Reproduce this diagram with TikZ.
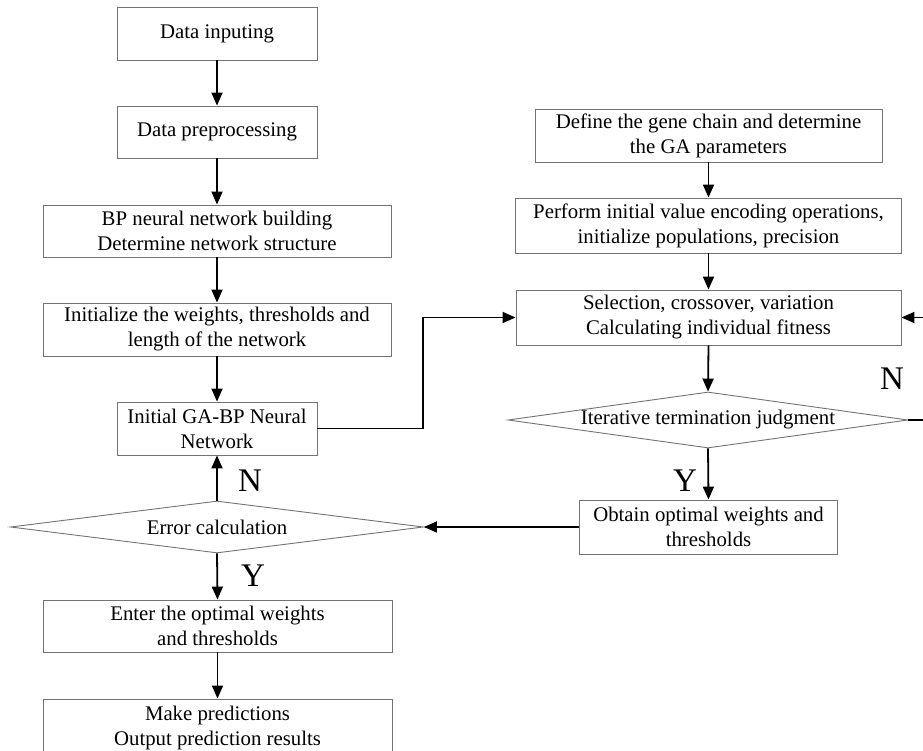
\documentclass[tikz,border=0pt]{standalone}
\usepackage{fontspec}
\setmainfont{Liberation Serif}
\usetikzlibrary{shapes.geometric,arrows.meta}
\begin{document}
\begin{tikzpicture}[x=1pt,y=-1pt,
  box/.style={draw=black!55,line width=0.9pt,rectangle,inner sep=0pt,align=center,
    font=\fontsize{20.8}{25}\selectfont},
  dia/.style={draw=black!55,line width=0.9pt,diamond,inner sep=0pt},
  txt/.style={inner sep=0pt,align=center,font=\fontsize{20.8}{25}\selectfont},
  big/.style={inner sep=0pt,font=\fontsize{33}{33}\selectfont},
  arr/.style={line width=1.8pt,-{Triangle[length=13pt,width=11pt]}},
  ln/.style={line width=1.8pt}]
\useasboundingbox (0,0) rectangle (923,751);
\clip (0,0) rectangle (923,751);
% left column
\node[box,minimum width=200pt,minimum height=53pt] (b1) at (217,33.5) {Data inputing};
\node[box,minimum width=200pt,minimum height=52pt] (b2) at (217,132) {Data preprocessing};
\node[box,minimum width=348pt,minimum height=52pt] (b3) at (217,231) {BP neural network building\\Determine network structure};
\node[box,minimum width=348pt,minimum height=53pt] (b4) at (217,329.5) {Initialize the weights, thresholds and\\length of the network};
\node[box,minimum width=200pt,minimum height=53pt] (b5) at (217,428.5) {Initial GA-BP Neural\\Network};
\node[dia,minimum width=413pt,minimum height=52pt] (d1) at (217,527) {};
\node[txt] (d1t) at (217,527) {Error calculation};
\node[box,minimum width=349pt,minimum height=52pt] (b6) at (217.5,626) {Enter the optimal weights\\and thresholds};
\node[box,minimum width=349pt,minimum height=58pt] (b7) at (217.5,728) {Make predictions\\Output prediction results};
% right column
\node[box,minimum width=347pt,minimum height=53pt] (r1) at (708.5,135.5) {Define the gene chain and determine\\the GA parameters};
\node[box,minimum width=386pt,minimum height=55pt] (r2) at (708.5,225.5) {Perform initial value encoding operations,\\initialize populations, precision};
\node[box,minimum width=385pt,minimum height=55pt] (r3) at (708.5,317.5) {Selection, crossover, variation\\Calculating individual fitness};
\node[dia,minimum width=400pt,minimum height=56pt] (d2) at (708,420) {};
\node[txt] (d2t) at (708,420) {Iterative termination judgment};
\node[box,minimum width=258pt,minimum height=54pt] (r4) at (708.5,527) {Obtain optimal weights and\\thresholds};
% labels
\node[big] (nl) at (250,481) {N};
\node[big] (yl) at (253,576) {Y};
\node[big] (nr) at (892,379) {N};
\node[big] (yr) at (685,481) {Y};
% coordinates
\coordinate (c1) at (423,428.5);
\coordinate (c2) at (423,317.5);
\coordinate (c3) at (930,420);
\coordinate (c4) at (930,317.5);
% connectors
\draw[arr] (b1) -- (b2);
\draw[arr] (b2) -- (b3);
\draw[arr] (b3) -- (b4);
\draw[arr] (b4) -- (b5);
\draw[arr] (d1.north) -- (b5.south);
\draw[arr] (d1.south) -- (b6.north);
\draw[arr] (b6) -- (b7);
\draw[arr] (b5.east) -- (c1) -- (c2) -- (r3.west);
\draw[arr] (r1) -- (r2);
\draw[arr] (r2) -- (r3);
\draw[arr] (r3.south) -- (d2.north);
\draw[arr] (d2.south) -- (r4.north);
\draw[arr] (d2.east) -- (c3) -- (c4) -- (r3.east);
\draw[arr] (r4.west) -- (d1.east);
\end{tikzpicture}
\end{document}
